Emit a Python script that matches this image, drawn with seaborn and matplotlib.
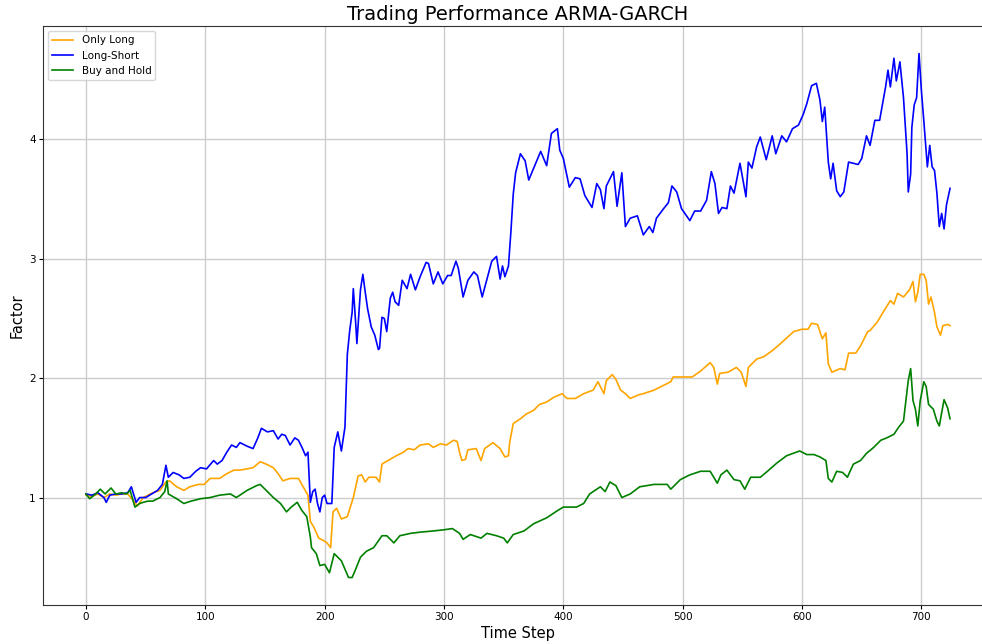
import matplotlib
matplotlib.use("Agg")
import matplotlib.pyplot as plt
import seaborn as sns
import pandas as pd

# Long-Short strategy (step, factor)
ls_steps = [0, 5, 10, 15, 17, 20, 25, 30, 35, 38, 42, 45, 50, 55, 60, 64, 67, 69, 73, 78,
            82, 87, 92, 96, 101, 107, 110, 114, 118, 122, 126, 129, 135, 140, 144, 147, 152, 157, 161, 164,
            167, 171, 175, 178, 181, 184, 186, 188, 190, 192, 194, 196, 198, 200, 202, 206, 208, 211, 214, 217,
            219, 221, 223, 224, 226, 227, 230, 232, 234, 236, 239, 242, 245, 246, 248, 250, 252, 255, 257, 259,
            262, 265, 269, 272, 276, 280, 285, 287, 291, 295, 299, 303, 306, 310, 312, 316, 320, 325, 328, 332,
            336, 340, 344, 347, 349, 351, 354, 356, 358, 360, 364, 368, 371, 376, 381, 386, 390, 395, 397, 400,
            405, 410, 414, 418, 424, 428, 431, 434, 436, 442, 445, 449, 452, 456, 462, 467, 472, 475, 478, 484,
            488, 491, 495, 499, 506, 510, 515, 520, 524, 527, 530, 533, 537, 540, 543, 548, 553, 555, 558, 562,
            565, 570, 575, 578, 583, 587, 592, 597, 601, 604, 608, 612, 615, 617, 619, 622, 624, 626, 629, 632,
            635, 639, 643, 647, 650, 654, 657, 661, 665, 670, 672, 674, 677, 679, 682, 685, 688, 689, 691, 692,
            694, 696, 698, 700, 702, 705, 707, 709, 711, 713, 715, 717, 719, 721, 724]
ls_vals = [1.03, 1.02, 1.04, 1.00, 0.96, 1.02, 1.03, 1.03, 1.04, 1.09, 0.96, 1.00, 1.00, 1.03, 1.06, 1.11, 1.27, 1.17, 1.21, 1.19,
           1.16, 1.17, 1.22, 1.25, 1.24, 1.31, 1.28, 1.31, 1.38, 1.44, 1.42, 1.46, 1.43, 1.41, 1.50, 1.58, 1.55, 1.56, 1.49, 1.53,
           1.52, 1.44, 1.50, 1.48, 1.42, 1.35, 1.38, 0.96, 1.05, 1.07, 0.95, 0.88, 1.00, 1.02, 0.95, 0.95, 1.42, 1.55, 1.39, 1.59,
           2.20, 2.40, 2.55, 2.75, 2.46, 2.29, 2.74, 2.87, 2.72, 2.58, 2.43, 2.36, 2.24, 2.25, 2.51, 2.50, 2.39, 2.67, 2.72, 2.64,
           2.61, 2.82, 2.75, 2.87, 2.74, 2.85, 2.97, 2.96, 2.79, 2.89, 2.79, 2.86, 2.86, 2.98, 2.92, 2.68, 2.82, 2.89, 2.86, 2.68,
           2.83, 2.98, 3.02, 2.83, 2.94, 2.85, 2.94, 3.22, 3.54, 3.72, 3.88, 3.82, 3.66, 3.78, 3.90, 3.78, 4.05, 4.09, 3.91, 3.84,
           3.60, 3.68, 3.67, 3.53, 3.43, 3.63, 3.58, 3.42, 3.61, 3.73, 3.44, 3.72, 3.27, 3.34, 3.36, 3.20, 3.27, 3.22, 3.34, 3.42,
           3.47, 3.61, 3.56, 3.42, 3.32, 3.40, 3.40, 3.49, 3.73, 3.63, 3.38, 3.43, 3.42, 3.61, 3.55, 3.80, 3.52, 3.81, 3.76, 3.94,
           4.02, 3.83, 4.03, 3.88, 4.03, 3.98, 4.09, 4.12, 4.21, 4.30, 4.45, 4.47, 4.33, 4.15, 4.27, 3.81, 3.67, 3.80, 3.57, 3.52,
           3.56, 3.81, 3.80, 3.79, 3.84, 4.03, 3.95, 4.16, 4.16, 4.44, 4.58, 4.44, 4.68, 4.49, 4.65, 4.35, 3.88, 3.56, 3.71, 4.10,
           4.29, 4.35, 4.72, 4.41, 4.16, 3.77, 3.95, 3.77, 3.74, 3.55, 3.27, 3.38, 3.25, 3.45, 3.59]

# Only Long strategy
ol_steps = [0, 5, 10, 15, 20, 25, 30, 35, 40, 43, 48, 52, 56, 62, 67, 70, 76, 82, 87, 94,
            99, 104, 112, 118, 124, 129, 135, 140, 146, 151, 157, 161, 165, 171, 178, 182, 186, 188, 191, 195,
            199, 202, 205, 207, 210, 214, 219, 224, 228, 231, 234, 237, 243, 246, 248, 253, 260, 266, 270, 275,
            280, 287, 291, 297, 302, 308, 311, 313, 315, 318, 320, 327, 331, 334, 341, 347, 351, 354, 355, 358,
            364, 369, 375, 380, 386, 392, 399, 403, 410, 417, 425, 429, 434, 436, 441, 444, 448, 452, 456, 463,
            467, 476, 484, 490, 492, 501, 508, 515, 523, 526, 529, 531, 538, 545, 549, 553, 555, 562, 568, 575,
            582, 593, 600, 605, 608, 613, 617, 620, 622, 625, 632, 636, 639, 645, 649, 655, 657, 663, 669, 674,
            677, 680, 685, 690, 693, 695, 697, 699, 702, 704, 706, 708, 711, 713, 716, 718, 722, 724]
ol_vals = [1.02, 1.01, 1.03, 1.00, 1.03, 1.02, 1.03, 1.03, 0.97, 0.93, 1.00, 1.02, 1.04, 1.06, 1.13, 1.14, 1.09, 1.06, 1.09, 1.11,
           1.11, 1.16, 1.16, 1.20, 1.23, 1.23, 1.24, 1.25, 1.30, 1.28, 1.25, 1.20, 1.14, 1.16, 1.16, 1.09, 1.02, 0.80, 0.75, 0.66,
           0.64, 0.62, 0.58, 0.88, 0.91, 0.82, 0.84, 1.00, 1.18, 1.19, 1.13, 1.17, 1.17, 1.13, 1.28, 1.31, 1.35, 1.38, 1.41, 1.40,
           1.44, 1.45, 1.42, 1.45, 1.44, 1.48, 1.47, 1.38, 1.31, 1.32, 1.40, 1.41, 1.31, 1.41, 1.46, 1.41, 1.34, 1.35, 1.46, 1.62,
           1.66, 1.70, 1.73, 1.78, 1.80, 1.84, 1.87, 1.83, 1.83, 1.87, 1.90, 1.97, 1.87, 1.98, 2.03, 1.99, 1.90, 1.87, 1.83, 1.86,
           1.87, 1.90, 1.94, 1.97, 2.01, 2.01, 2.01, 2.06, 2.13, 2.09, 1.95, 2.04, 2.05, 2.09, 2.05, 1.93, 2.09, 2.16, 2.18, 2.23,
           2.29, 2.39, 2.41, 2.41, 2.46, 2.45, 2.33, 2.38, 2.12, 2.05, 2.08, 2.07, 2.21, 2.21, 2.27, 2.39, 2.40, 2.47, 2.57, 2.65,
           2.62, 2.71, 2.68, 2.74, 2.81, 2.64, 2.72, 2.87, 2.87, 2.82, 2.62, 2.68, 2.55, 2.43, 2.36, 2.44, 2.45, 2.44]

# Buy and Hold benchmark
bh_steps = [0, 3, 7, 12, 16, 21, 25, 30, 34, 37, 41, 45, 48, 52, 56, 62, 66, 68, 69, 76,
            82, 88, 96, 104, 112, 121, 126, 135, 143, 146, 151, 157, 163, 168, 172, 177, 181, 185, 188, 189,
            193, 196, 200, 204, 208, 211, 214, 220, 223, 226, 230, 235, 241, 248, 252, 258, 263, 272, 280, 291,
            300, 307, 313, 316, 322, 331, 336, 344, 350, 353, 358, 367, 375, 386, 395, 400, 411, 417, 422, 431,
            435, 439, 444, 449, 456, 464, 476, 487, 490, 498, 506, 515, 523, 529, 532, 537, 543, 548, 552, 557,
            565, 571, 579, 587, 598, 604, 610, 615, 620, 622, 625, 629, 634, 638, 643, 649, 654, 660, 666, 671,
            677, 681, 685, 687, 689, 691, 693, 695, 697, 699, 702, 704, 706, 710, 713, 715, 719, 722, 724]
bh_vals = [1.03, 0.99, 1.02, 1.07, 1.03, 1.08, 1.03, 1.04, 1.03, 1.06, 0.92, 0.95, 0.96, 0.97, 0.97, 1.00, 1.05, 1.14, 1.03, 0.99,
           0.95, 0.97, 0.99, 1.00, 1.02, 1.03, 1.00, 1.06, 1.10, 1.11, 1.06, 1.00, 0.95, 0.88, 0.92, 0.96, 0.89, 0.84, 0.67, 0.58,
           0.53, 0.43, 0.44, 0.37, 0.53, 0.50, 0.47, 0.33, 0.33, 0.40, 0.50, 0.55, 0.58, 0.68, 0.68, 0.62, 0.68, 0.70, 0.71, 0.72,
           0.73, 0.74, 0.70, 0.65, 0.69, 0.66, 0.70, 0.68, 0.66, 0.62, 0.69, 0.72, 0.78, 0.83, 0.89, 0.92, 0.92, 0.95, 1.03, 1.09,
           1.05, 1.13, 1.10, 1.00, 1.03, 1.09, 1.11, 1.11, 1.07, 1.15, 1.19, 1.22, 1.22, 1.12, 1.19, 1.23, 1.15, 1.14, 1.07, 1.17,
           1.17, 1.22, 1.29, 1.35, 1.39, 1.36, 1.36, 1.34, 1.31, 1.16, 1.13, 1.22, 1.21, 1.17, 1.28, 1.31, 1.37, 1.42, 1.48, 1.50,
           1.53, 1.59, 1.64, 1.81, 1.98, 2.08, 1.81, 1.74, 1.60, 1.81, 1.97, 1.93, 1.78, 1.74, 1.64, 1.60, 1.82, 1.75, 1.66]

series = [
    ("Only Long", ol_steps, ol_vals, "orange"),
    ("Long-Short", ls_steps, ls_vals, "blue"),
    ("Buy and Hold", bh_steps, bh_vals, "green"),
]

# reference looks like a default matplotlib render scaled down ~0.75
plt.rcParams.update({
    "xtick.labelsize": 7.5,
    "ytick.labelsize": 7.5,
    "xtick.major.size": 2.6,
    "ytick.major.size": 2.6,
    "xtick.major.pad": 2.6,
    "ytick.major.pad": 2.6,
    "axes.labelpad": 3.0,
    "axes.titlepad": 4.5,
    "axes.edgecolor": "#333333",
})

fig = plt.figure(figsize=(9.82, 6.44), dpi=100)
ax = fig.add_axes([0.0438, 0.0606, 0.9674, 0.899])

for label, steps, vals, color in series:
    df = pd.DataFrame({"Time Step": steps, "Factor": vals})
    sns.lineplot(data=df, x="Time Step", y="Factor", ax=ax, color=color,
                 label=label, estimator=None, linewidth=1.2)

ax.set_xlim(-36, 760)
ax.set_ylim(0.10, 4.95)
ax.set_xticks([0, 100, 200, 300, 400, 500, 600, 700])
ax.set_yticks([1, 2, 3, 4])
ax.grid(True, color="#cccccc", linewidth=1.0)
ax.spines["right"].set_visible(False)
ax.set_title("Trading Performance ARMA-GARCH", fontsize=14)
ax.set_xlabel("Time Step", fontsize=10.5)
ax.set_ylabel("Factor", fontsize=10.5)
ax.legend(loc="upper left", fontsize=7.5)

fig.savefig("out.png", dpi=100)
